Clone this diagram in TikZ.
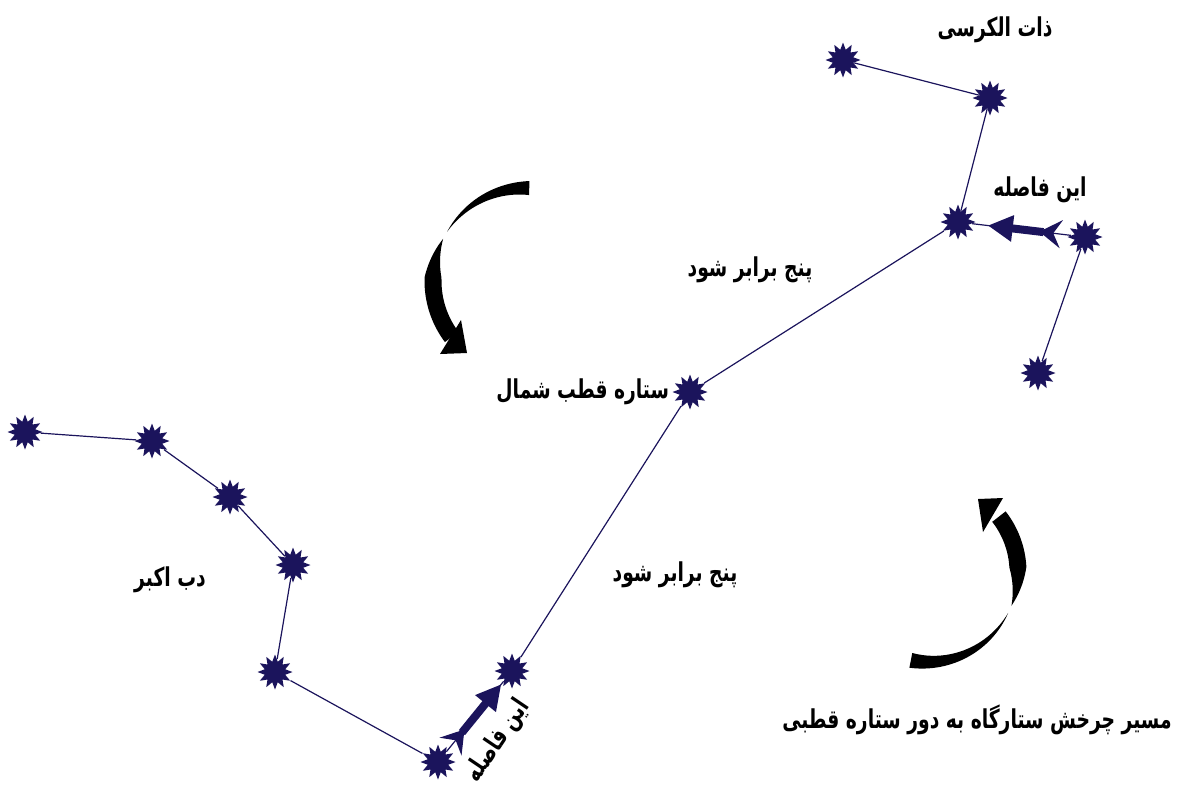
\documentclass[tikz,border=0pt]{standalone}
\usepackage{fontspec}
\newfontfamily\farsi[Script=Arabic, FakeStretch=0.72]{DejaVu Sans}
\TeXXeTstate=1
\usetikzlibrary{shapes.geometric, positioning, arrows.meta}

\definecolor{starblue}{RGB}{27,20,92}

\tikzset{
  starnode/.style={star, star points=12, star point ratio=1.65, fill=starblue,
    inner sep=0pt, minimum size=17.5pt},
  link/.style={starblue, line width=0.6pt},
  hintarrow/.style={starblue, line width=4pt,
    {Stealth[reversed, length=11pt, width=14pt, inset=4pt]}-{Triangle[length=12.5pt, width=12.5pt]}},
  farsitext/.style={font=\farsi\bfseries\fontsize{13}{15}\selectfont, inner sep=1pt}
}

\begin{document}
\begin{tikzpicture}[x=0.5pt, y=-0.5pt]
    \useasboundingbox (0,0) rectangle (1182,789);

    % Big Dipper
    \node[starnode] (d1) at (25,432) {};
    \node[starnode] (d2) at (152,441) {};
    \node[starnode] (d3) at (230,497) {};
    \node[starnode] (d4) at (293,565) {};
    \node[starnode] (d5) at (275,672) {};
    \node[starnode] (d6) at (438,762) {};
    \node[starnode] (d7) at (512,671) {};

    % Pole star
    \node[starnode] (polaris) at (690,392) {};

    % Cassiopeia
    \node[starnode] (c1) at (843,60) {};
    \node[starnode] (c2) at (990,98) {};
    \node[starnode] (c3) at (958,222) {};
    \node[starnode] (c4) at (1085,237) {};
    \node[starnode] (c5) at (1038,373) {};

    % Links
    \draw[link] (d1) -- (d2) -- (d3) -- (d4) -- (d5) -- (d6) -- (d7);
    \draw[link] (d7) -- (polaris) -- (c3);
    \draw[link] (c1) -- (c2) -- (c3) -- (c4) -- (c5);

    % Pointer arrows
    \draw[hintarrow, shorten <=10pt, shorten >=8.5pt] (d6.center) -- (d7.center);
    \draw[hintarrow, shorten <=12pt, shorten >=15pt] (c4.center) -- (c3.center);

    % Rotation arrow, upper left
    \fill plot[domain=212:272, samples=30]
        ({526+(93+7*(\x-212)/60)*cos(\x)}, {281+(93+7*(\x-212)/60)*sin(\x)})
      -- plot[domain=0:60, samples=30]
        ({526+(93-7*(60-\x)/60)*cos(272-\x)}, {281+(93-7*(60-\x)/60)*sin(272-\x)})
      -- cycle;
    \fill plot[domain=143:207, samples=40]
        ({526+(93+8.5*min(1,(207-\x)/25))*cos(\x)}, {281+(93+8.5*min(1,(207-\x)/25))*sin(\x)})
      -- plot[domain=0:64, samples=40]
        ({526+(93-8.5*min(1,\x/25))*cos(207-\x)}, {281+(93-8.5*min(1,\x/25))*sin(207-\x)})
      -- cycle;
    \fill (440,354) -- (467,353) -- (461,320) -- cycle;

    % Rotation arrow, lower right
    \fill plot[domain=27:101, samples=30]
        ({928+(90+7.5*(\x-27)/74)*cos(\x)}, {572+(90+7.5*(\x-27)/74)*sin(\x)})
      -- plot[domain=0:74, samples=30]
        ({928+(90-7.5*(74-\x)/74)*cos(101-\x)}, {572+(90-7.5*(74-\x)/74)*sin(101-\x)})
      -- cycle;
    \fill plot[domain=-38:22, samples=40]
        ({928+(90+8.5*min(1,(22-\x)/25))*cos(\x)}, {572+(90+8.5*min(1,(22-\x)/25))*sin(\x)})
      -- plot[domain=0:60, samples=40]
        ({928+(90-8.5*min(1,\x/25))*cos(22-\x)}, {572+(90-8.5*min(1,\x/25))*sin(22-\x)})
      -- cycle;
    \fill (978,499) -- (1003,498) -- (983,532) -- cycle;

    % Labels
    \node[farsitext] (lblcass) at (995,30) {\beginR ذات الکرسی\endR};
    \node[farsitext] (lbldist1) at (1040,190) {\beginR این فاصله\endR};
    \node[farsitext] (lblfive1) at (750,270) {\beginR پنج برابر شود\endR};
    \node[farsitext] (lblpolaris) [left=0pt of polaris] {\beginR ستاره قطب شمال\endR};
    \node[farsitext] (lblbear) at (170,580) {\beginR دب اکبر\endR};
    \node[farsitext] (lblfive2) at (675,575) {\beginR پنج برابر شود\endR};
    \node[farsitext, rotate=56] (lbldist2) at (498,741) {\beginR این فاصله\endR};
    \node[farsitext] (lblpath) at (977,720) {\beginR مسیر چرخش ستارگاه به دور ستاره قطبی\endR};
\end{tikzpicture}
\end{document}
